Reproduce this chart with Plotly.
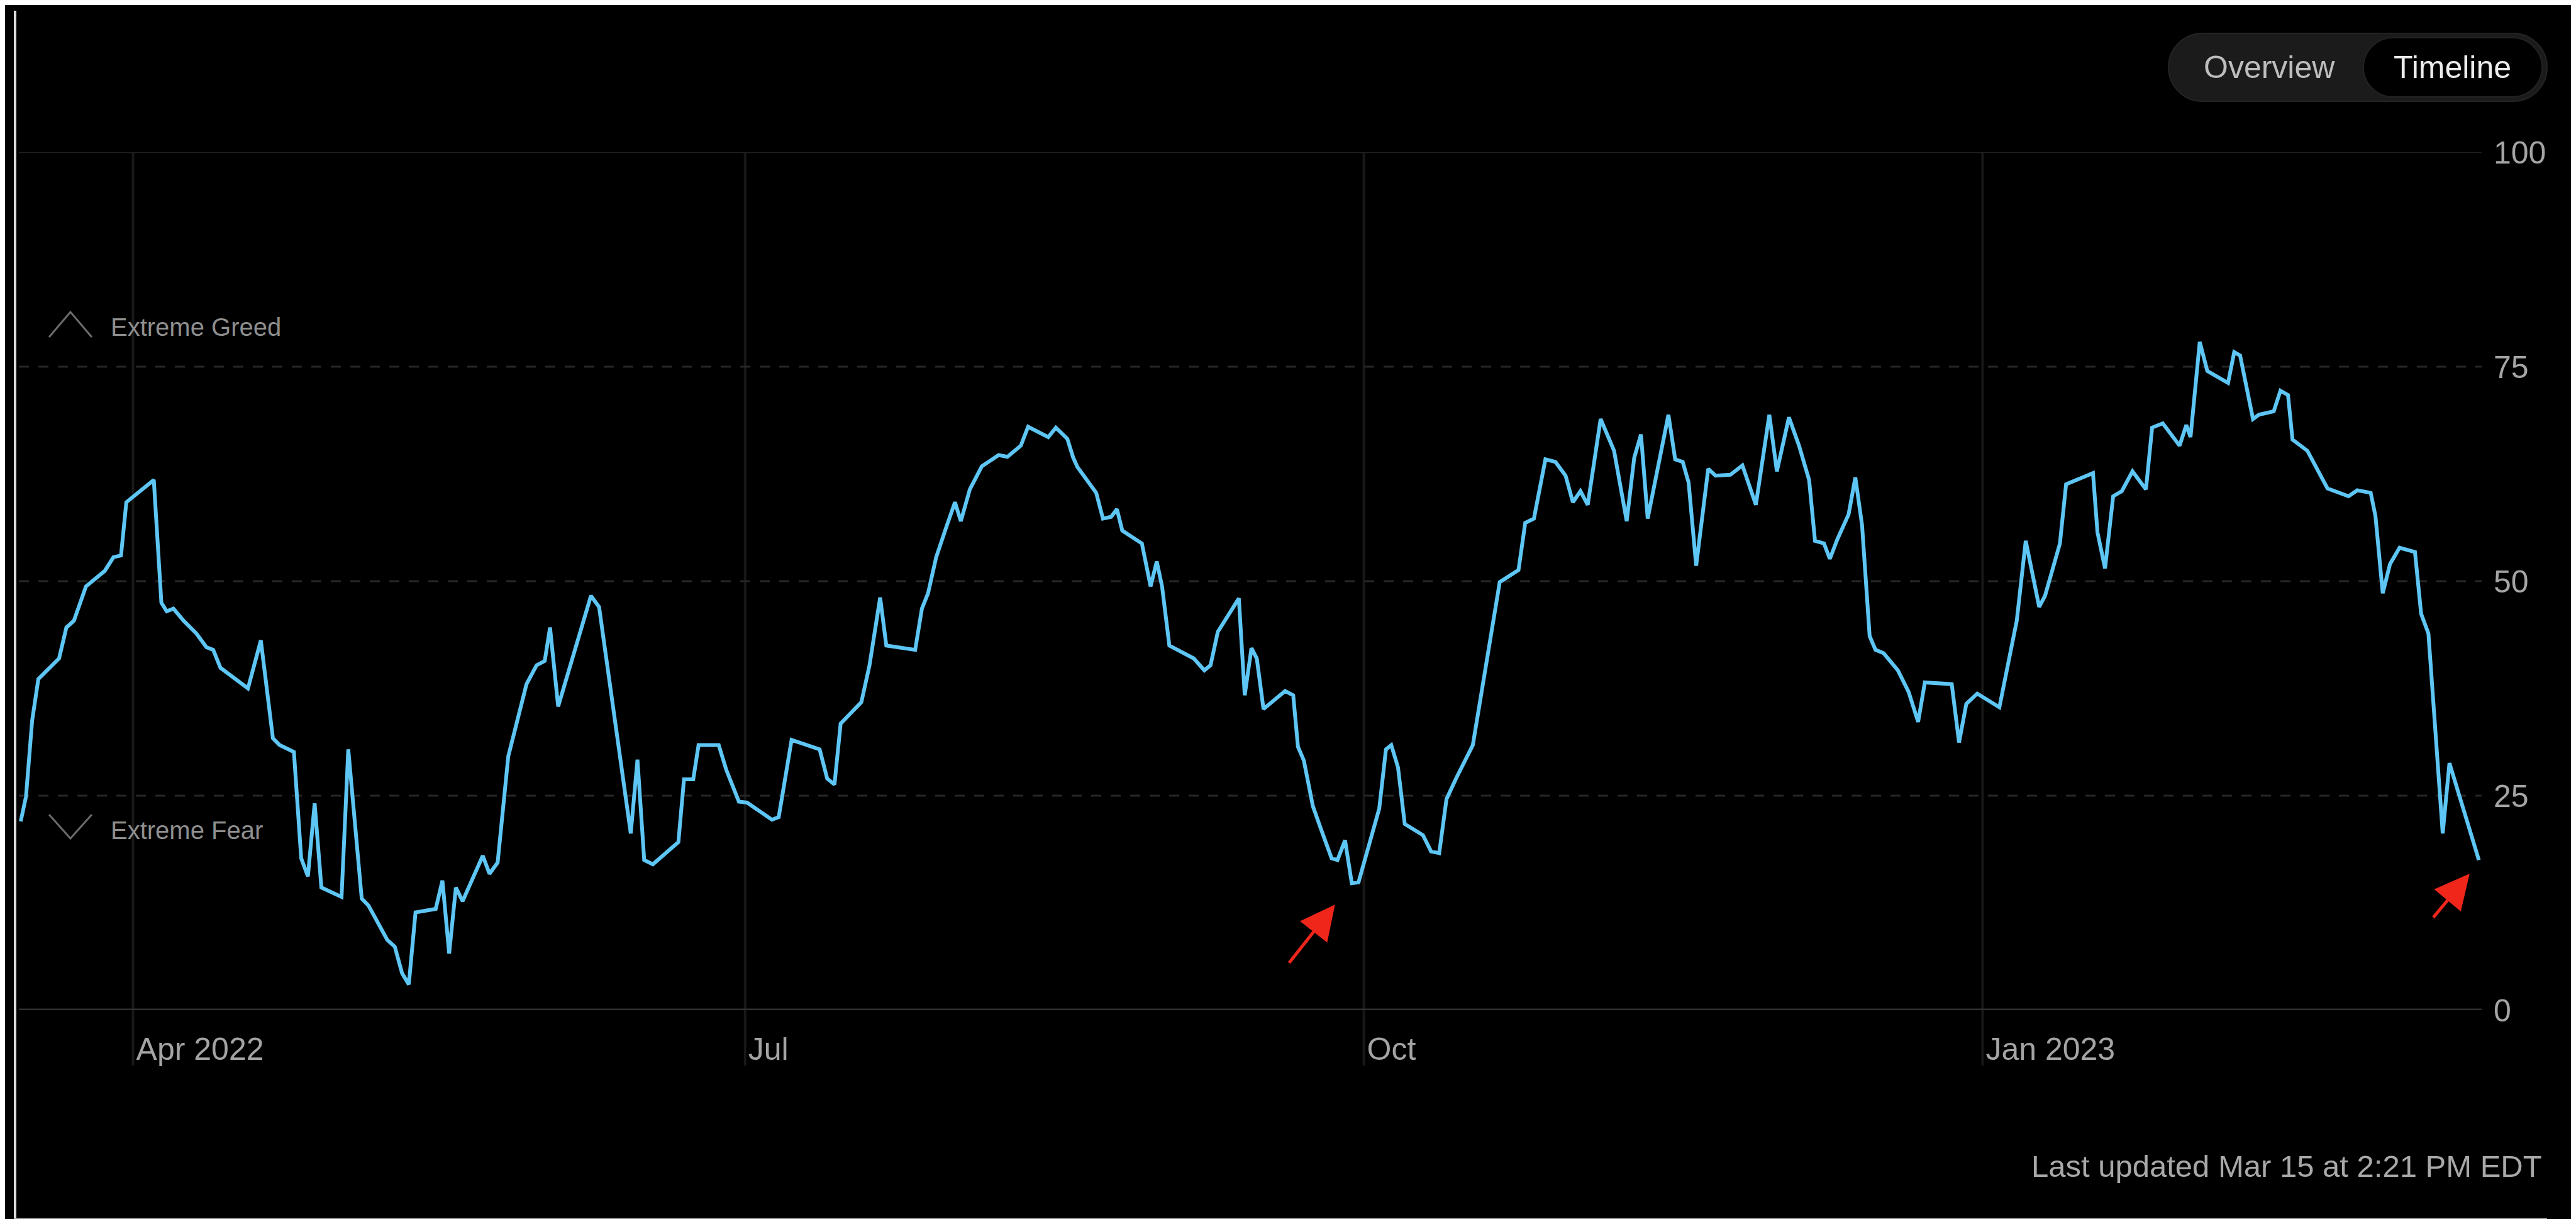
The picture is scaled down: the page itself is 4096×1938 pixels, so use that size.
import plotly.graph_objects as go

# ---------------- data ----------------
dates = [
    "2022-03-15 07:00", "2022-03-16 02:00", "2022-03-17 00:00", "2022-03-17 22:00", "2022-03-21 00:00",
    "2022-03-22 02:00", "2022-03-23 05:00", "2022-03-25 00:00", "2022-03-27 19:00", "2022-03-29 02:00",
    "2022-03-30 05:00", "2022-03-31 00:00", "2022-04-04 02:00", "2022-04-05 05:00", "2022-04-06 00:00",
    "2022-04-07 00:00", "2022-04-08 12:00", "2022-04-10 10:00", "2022-04-11 22:00", "2022-04-12 22:00",
    "2022-04-14 00:00", "2022-04-18 02:00", "2022-04-20 00:00", "2022-04-21 19:00", "2022-04-22 19:00",
    "2022-04-24 22:00", "2022-04-26 00:00", "2022-04-27 00:00", "2022-04-28 00:00", "2022-04-29 00:00",
    "2022-05-02 00:00", "2022-05-03 00:00", "2022-05-05 00:00", "2022-05-06 00:00", "2022-05-08 19:00",
    "2022-05-09 22:00", "2022-05-11 00:00", "2022-05-12 00:00", "2022-05-13 00:00", "2022-05-16 00:00",
    "2022-05-17 00:00", "2022-05-18 00:00", "2022-05-19 00:00", "2022-05-20 00:00", "2022-05-23 00:00",
    "2022-05-24 00:00", "2022-05-25 05:00", "2022-05-26 19:00", "2022-05-29 12:00", "2022-05-31 00:00",
    "2022-06-01 05:00", "2022-06-02 00:00", "2022-06-03 05:00", "2022-06-08 02:00", "2022-06-09 07:00",
    "2022-06-14 00:00", "2022-06-15 00:00", "2022-06-16 00:00", "2022-06-17 07:00", "2022-06-21 02:00",
    "2022-06-21 22:00", "2022-06-23 07:00", "2022-06-24 02:00", "2022-06-27 02:00", "2022-06-28 05:00",
    "2022-06-30 02:00", "2022-07-01 07:00", "2022-07-05 00:00", "2022-07-06 00:00", "2022-07-07 22:00",
    "2022-07-12 02:00", "2022-07-13 05:00", "2022-07-14 07:00", "2022-07-15 05:00", "2022-07-18 07:00",
    "2022-07-19 12:00", "2022-07-21 02:00", "2022-07-22 00:00", "2022-07-26 07:00", "2022-07-27 07:00",
    "2022-07-28 05:00", "2022-07-29 10:00", "2022-07-31 00:00", "2022-08-01 05:00", "2022-08-02 02:00",
    "2022-08-03 10:00", "2022-08-05 05:00", "2022-08-07 17:00", "2022-08-09 00:00", "2022-08-11 00:00",
    "2022-08-12 02:00", "2022-08-15 02:00", "2022-08-16 05:00", "2022-08-17 22:00", "2022-08-18 19:00",
    "2022-08-19 10:00", "2022-08-22 05:00", "2022-08-23 05:00", "2022-08-24 10:00", "2022-08-25 07:00",
    "2022-08-26 02:00", "2022-08-29 00:00", "2022-08-30 07:00", "2022-08-31 05:00", "2022-09-01 00:00",
    "2022-09-02 02:00", "2022-09-05 17:00", "2022-09-07 07:00", "2022-09-08 05:00", "2022-09-09 07:00",
    "2022-09-12 10:00", "2022-09-13 07:00", "2022-09-14 07:00", "2022-09-15 02:00", "2022-09-16 02:00",
    "2022-09-19 07:00", "2022-09-20 12:00", "2022-09-21 05:00", "2022-09-22 02:00", "2022-09-23 10:00",
    "2022-09-24 14:00", "2022-09-26 05:00", "2022-09-27 02:00", "2022-09-28 05:00", "2022-09-29 05:00",
    "2022-09-30 05:00", "2022-10-03 07:00", "2022-10-04 07:00", "2022-10-05 02:00", "2022-10-06 02:00",
    "2022-10-07 02:00", "2022-10-09 19:00", "2022-10-11 00:00", "2022-10-12 05:00", "2022-10-13 07:00",
    "2022-10-14 17:00", "2022-10-17 05:00", "2022-10-21 05:00", "2022-10-24 00:00", "2022-10-25 00:00",
    "2022-10-26 07:00", "2022-10-28 00:00", "2022-10-29 12:00", "2022-10-31 00:00", "2022-11-01 02:00",
    "2022-11-02 05:00", "2022-11-03 07:00", "2022-11-05 05:00", "2022-11-07 05:00", "2022-11-09 02:00",
    "2022-11-10 05:00", "2022-11-11 05:00", "2022-11-12 05:00", "2022-11-15 07:00", "2022-11-16 07:00",
    "2022-11-17 10:00", "2022-11-18 07:00", "2022-11-19 10:00", "2022-11-21 05:00", "2022-11-22 07:00",
    "2022-11-24 12:00", "2022-11-26 07:00", "2022-11-28 07:00", "2022-11-30 07:00", "2022-12-01 10:00",
    "2022-12-03 05:00", "2022-12-04 17:00", "2022-12-06 05:00", "2022-12-07 02:00", "2022-12-08 10:00",
    "2022-12-09 07:00", "2022-12-10 10:00", "2022-12-12 02:00", "2022-12-13 02:00", "2022-12-14 02:00",
    "2022-12-15 05:00", "2022-12-16 02:00", "2022-12-17 07:00", "2022-12-19 10:00", "2022-12-21 00:00",
    "2022-12-22 10:00", "2022-12-23 10:00", "2022-12-27 10:00", "2022-12-28 12:00", "2022-12-29 14:00",
    "2022-12-31 05:00", "2023-01-03 12:00", "2023-01-04 17:00", "2023-01-06 02:00", "2023-01-07 10:00",
    "2023-01-09 10:00", "2023-01-10 07:00", "2023-01-12 12:00", "2023-01-13 10:00", "2023-01-17 10:00",
    "2023-01-18 02:00", "2023-01-19 05:00", "2023-01-20 10:00", "2023-01-21 17:00", "2023-01-23 07:00",
    "2023-01-25 07:00", "2023-01-26 05:00", "2023-01-27 19:00", "2023-01-30 07:00", "2023-01-31 07:00",
    "2023-01-31 22:00", "2023-02-02 07:00", "2023-02-03 10:00", "2023-02-06 12:00", "2023-02-07 10:00",
    "2023-02-08 07:00", "2023-02-10 05:00", "2023-02-11 02:00", "2023-02-13 07:00", "2023-02-14 07:00",
    "2023-02-15 10:00", "2023-02-16 02:00", "2023-02-18 07:00", "2023-02-19 12:00", "2023-02-21 07:00",
    "2023-02-24 10:00", "2023-02-25 17:00", "2023-02-27 17:00", "2023-02-28 10:00", "2023-03-01 12:00",
    "2023-03-02 14:00", "2023-03-04 00:00", "2023-03-06 07:00", "2023-03-07 05:00", "2023-03-08 07:00",
    "2023-03-10 10:00", "2023-03-11 10:00", "2023-03-15 19:00",
]
values = [
    22.0, 24.9, 33.8, 38.6, 41.0,
    44.6, 45.4, 49.4, 51.2, 52.8,
    53.0, 59.2, 61.8, 47.5, 46.5,
    46.8, 45.4, 43.9, 42.3, 42.0,
    39.9, 37.5, 43.1, 31.7, 30.9,
    30.1, 17.7, 15.6, 24.1, 14.3,
    13.2, 30.4, 13.0, 12.2, 8.2,
    7.4, 4.3, 3.0, 11.4, 11.8,
    15.1, 6.6, 14.3, 12.7, 18.0,
    15.9, 17.2, 29.6, 38.0, 40.2,
    40.7, 44.6, 35.4, 48.3, 47.0,
    20.6, 29.2, 17.5, 17.0, 19.6,
    26.9, 26.9, 30.9, 30.9, 28.0,
    24.3, 24.2, 22.2, 22.5, 31.5,
    30.4, 27.0, 26.3, 33.4, 35.9,
    40.2, 48.1, 42.5, 42.0, 46.8,
    48.6, 52.8, 56.5, 59.2, 57.0,
    60.7, 63.4, 64.7, 64.5, 65.8,
    68.0, 66.8, 67.9, 66.6, 64.4,
    63.3, 60.3, 57.3, 57.5, 58.4,
    55.9, 54.4, 49.4, 52.3, 49.4,
    42.5, 41.0, 39.6, 40.2, 44.1,
    48.0, 36.7, 42.2, 41.0, 35.1,
    37.2, 36.7, 30.7, 29.1, 23.8,
    21.2, 17.7, 17.5, 19.8, 14.8,
    14.9, 23.5, 30.4, 30.9, 28.3,
    21.7, 20.4, 18.5, 18.3, 24.6,
    27.0, 30.9, 49.9, 51.3, 56.8,
    57.3, 64.2, 63.9, 62.3, 59.2,
    60.5, 58.9, 68.9, 65.2, 57.0,
    64.4, 67.1, 57.3, 69.4, 64.2,
    63.9, 61.5, 51.8, 63.1, 62.3,
    62.4, 63.5, 58.9, 69.4, 62.8,
    69.1, 65.8, 61.8, 54.7, 54.4,
    52.6, 54.9, 57.8, 62.1, 56.5,
    43.6, 42.0, 41.6, 39.6, 37.1,
    33.6, 38.2, 38.0, 31.2, 35.7,
    36.9, 35.3, 40.2, 45.4, 54.7,
    47.0, 48.3, 54.4, 61.3, 62.6,
    55.7, 51.5, 59.9, 60.5, 62.8,
    60.7, 67.9, 68.4, 65.8, 68.2,
    66.8, 77.9, 74.5, 73.1, 76.7,
    76.3, 68.9, 69.4, 69.8, 72.2,
    71.7, 66.5, 65.2, 63.4, 60.8,
    59.9, 60.6, 60.3, 57.6, 48.6,
    52.0, 53.9, 53.4, 46.2, 43.9,
    20.6, 28.8, 17.5,
]

y_ticks = [0, 25, 50, 75, 100]
y_dashed = [25, 50, 75]
x_tick_dates = ["2022-04-01", "2022-07-01", "2022-10-01", "2023-01-01"]
x_tick_labels = ["Apr 2022", "Jul", "Oct", "Jan 2023"]
x_range = ["2022-03-15 00:30", "2023-03-16 05:00"]

zone_labels = ["Extreme Greed", "Extreme Fear"]
toggle_labels = ["Overview", "Timeline"]
updated_text = "Last updated Mar 15 at 2:21 PM EDT"

# arrows: (tip date, tip value) and tail offset in px
arrow_tips = [("2022-09-26 17:00", 12.3), ("2023-03-14 10:00", 15.9)]
arrow_offsets = [(-74, 94), (-59, 71)]

# ---------------- layout geometry ----------------
W, H = 4096, 1938
ML, MR, MT, MB = 22, 158, 234, 340
PW, PH = W - ML - MR, H - MT - MB


def px(x):
    return (x - ML) / PW


def py(y):
    return (H - MB - y) / PH


SANS = "Liberation Sans, Arial, sans-serif"
LINE_BLUE = "#5ec6f4"
TICK_GRAY = "#a4a4a4"

fig = go.Figure()
fig.add_trace(go.Scatter(
    x=dates, y=values, mode="lines",
    line=dict(color=LINE_BLUE, width=6),
    hoverinfo="skip", showlegend=False,
))

shapes = []
# vertical month lines (extend below the plot to the labels)
for d in x_tick_dates:
    shapes.append(dict(type="line", xref="x", yref="paper", x0=d, x1=d,
                       y0=py(1686), y1=1, line=dict(color="#181818", width=4), layer="below"))
# dashed horizontal grid
for v in y_dashed:
    shapes.append(dict(type="line", xref="paper", yref="y", x0=0, x1=1, y0=v, y1=v,
                       line=dict(color="#272727", width=3, dash="16px,15px"), layer="below"))
# top line at 100
shapes.append(dict(type="line", xref="paper", yref="y", x0=0, x1=1, y0=100, y1=100,
                   line=dict(color="#202020", width=2.5), layer="below"))
# baseline at 0
shapes.append(dict(type="line", xref="paper", yref="y", x0=0, x1=1, y0=0, y1=0,
                   line=dict(color="#313131", width=5), layer="below"))


def path_px(points):
    s = ""
    for cmd, pts in points:
        s += cmd + " ".join(f"{px(a):.5f},{py(b):.5f}" for a, b in pts) + " "
    return s


def chevron(x0, xm, x1, ya, yb):
    return "M{:.5f},{:.5f} L{:.5f},{:.5f} L{:.5f},{:.5f}".format(
        px(x0), py(ya), px(xm), py(yb), px(x1), py(ya))


shapes.append(dict(type="path", xref="paper", yref="paper",
                   path=chevron(70, 104, 138, 528, 488), line=dict(color="#6c6c6c", width=3)))
shapes.append(dict(type="path", xref="paper", yref="paper",
                   path=chevron(70, 104, 138, 1287, 1325), line=dict(color="#6c6c6c", width=3)))


def pill(x0, y0, x1, y1):
    r = (y1 - y0) / 2
    k = 0.5523 * r
    pts = [
        ("M", [(x0 + r, y0)]),
        ("L", [(x1 - r, y0)]),
        ("C", [(x1 - r + k, y0), (x1, y0 + r - k), (x1, y0 + r)]),
        ("C", [(x1, y0 + r + k), (x1 - r + k, y1), (x1 - r, y1)]),
        ("L", [(x0 + r, y1)]),
        ("C", [(x0 + r - k, y1), (x0, y1 - r + k), (x0, y0 + r)]),
        ("C", [(x0, y0 + r - k), (x0 + r - k, y0), (x0 + r, y0)]),
    ]
    return path_px(pts) + "Z"


shapes.append(dict(type="path", xref="paper", yref="paper", path=pill(3440, 45, 4042, 153),
                   fillcolor="#1b1b1b", line=dict(color="#242424", width=2)))
shapes.append(dict(type="path", xref="paper", yref="paper", path=pill(3750, 52, 4034, 146),
                   fillcolor="#000000", line=dict(color="#222222", width=2)))

# screenshot frame lines
shapes.append(dict(type="line", xref="paper", yref="paper", x0=px(16), x1=px(16), y0=py(9), y1=py(1938),
                   line=dict(color="#dcdcdc", width=4)))
shapes.append(dict(type="line", xref="paper", yref="paper", x0=px(14), x1=px(4042), y0=py(1931), y1=py(1931),
                   line=dict(color="#a6a6a6", width=5)))

annotations = []
annotations.append(dict(xref="paper", yref="paper", x=px(166), y=py(512), xanchor="left", yanchor="middle",
                        text=zone_labels[0], showarrow=False, font=dict(family=SANS, size=40, color="#8e8e8e")))
annotations.append(dict(xref="paper", yref="paper", x=px(166), y=py(1312), xanchor="left", yanchor="middle",
                        text=zone_labels[1], showarrow=False, font=dict(family=SANS, size=40, color="#8e8e8e")))
annotations.append(dict(xref="paper", yref="paper", x=px(3600), y=py(99), xanchor="center", yanchor="middle",
                        text=toggle_labels[0], showarrow=False, font=dict(family=SANS, size=50, color="#bdbdbd")))
annotations.append(dict(xref="paper", yref="paper", x=px(3891), y=py(99), xanchor="center", yanchor="middle",
                        text=toggle_labels[1], showarrow=False, font=dict(family=SANS, size=50, color="#ececec")))
annotations.append(dict(xref="paper", yref="paper", x=px(4036), y=py(1846), xanchor="right", yanchor="middle",
                        text=updated_text, showarrow=False, font=dict(family=SANS, size=49, color="#a8a8a8")))
for (d, v), (ax, ay) in zip(arrow_tips, arrow_offsets):
    annotations.append(dict(x=d, y=v, xref="x", yref="y", text="", showarrow=True,
                            ax=ax, ay=ay, axref="pixel", ayref="pixel",
                            arrowcolor="#f0261b", arrowwidth=5, arrowhead=2, arrowsize=2.2, standoff=0))

fig.update_layout(
    width=W, height=H,
    margin=dict(l=ML, r=MR, t=MT, b=MB, pad=0),
    paper_bgcolor="#000000", plot_bgcolor="rgba(0,0,0,0)",
    showlegend=False,
    shapes=shapes, annotations=annotations,
    xaxis=dict(type="date", range=x_range, showgrid=False, zeroline=False, showline=False,
               tickvals=x_tick_dates, ticktext=x_tick_labels, ticks="",
               ticklabelposition="outside right", ticklabelshift=5, ticklabelstandoff=28,
               tickfont=dict(family=SANS, size=50, color=TICK_GRAY), fixedrange=True),
    yaxis=dict(range=[0, 100], side="right", showgrid=False, zeroline=False, showline=False,
               tickvals=y_ticks, ticks="", ticklabelstandoff=18,
               tickfont=dict(family=SANS, size=50, color=TICK_GRAY), fixedrange=True),
)

fig.write_html("out.html")
